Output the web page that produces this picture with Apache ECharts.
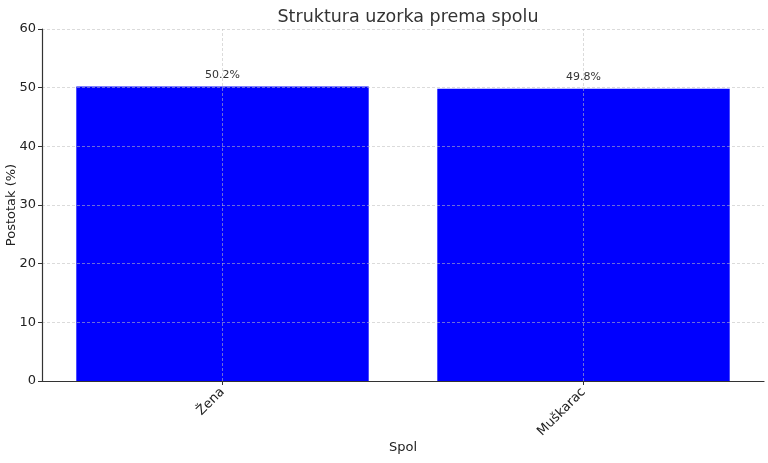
<!DOCTYPE html>
<html><head><meta charset="utf-8">
<script src="https://cdn.jsdelivr.net/npm/echarts@6/dist/echarts.min.js"></script>
<style>html,body{margin:0;padding:0;background:#fff}#c{width:768px;height:463px}</style>
</head><body><div id="c"></div>
<script>
const categories = ['Žena', 'Muškarac'];
const values = [50.2, 49.8];
const yTicks = [0, 10, 20, 30, 40, 50, 60];
const titleText = 'Struktura uzorka prema spolu';
const xName = 'Spol';
const yName = 'Postotak (%)';

const font = 'DejaVu Sans';
const grid = {left: 42, right: 4, top: 29, bottom: 82, containLabel: false, outerBoundsMode: 'none'};
const chart = echarts.init(document.getElementById('c'), null, {renderer: 'canvas'});
chart.setOption({
  animation: false,
  textStyle: {fontFamily: font},
  title: {text: titleText, left: 403, top: 3, textAlign: 'center',
    textStyle: {fontFamily: font, fontSize: 17.5, fontWeight: 'normal', color: '#333'}},
  grid: grid,
  xAxis: {
    type: 'category', data: categories, z: 3,
    name: xName, nameLocation: 'middle', nameGap: 60, nameMoveOverlap: false,
    nameTextStyle: {fontFamily: font, fontSize: 13, color: '#222'},
    axisLine: {lineStyle: {color: '#333', width: 1.2}},
    axisTick: {show: true, alignWithLabel: true, length: 4, lineStyle: {color: '#333'}},
    axisLabel: {rotate: 45, fontFamily: font, fontSize: 13, color: '#222', margin: 9},
    splitLine: {show: false}
  },
  yAxis: {
    type: 'value', min: yTicks[0], max: yTicks[yTicks.length - 1], interval: 10, z: 3,
    name: yName, nameLocation: 'middle', nameGap: 24, nameMoveOverlap: false,
    nameTextStyle: {fontFamily: font, fontSize: 13, color: '#222'},
    axisLine: {show: true, lineStyle: {color: '#333', width: 1.2}},
    axisTick: {show: true, length: 4, lineStyle: {color: '#333'}},
    axisLabel: {fontFamily: font, fontSize: 13, color: '#222', margin: 6},
    splitLine: {show: true, lineStyle: {color: 'rgba(190,190,190,0.7)', type: [3, 2], width: 0.8}}
  },
  series: [{
    type: 'bar', data: values, barWidth: '81%',
    itemStyle: {color: '#0000ff'},
    label: {show: true, position: 'top', distance: 6, formatter: p => p.value.toFixed(1) + '%',
      fontFamily: font, fontSize: 11, color: '#333'},
    markLine: {
      silent: true, symbol: 'none', z: 5, label: {show: false},
      lineStyle: {color: 'rgba(190,190,190,0.7)', type: [3, 2], width: 0.8},
      data: categories.map(c => ({xAxis: c}))
    }
  }]
});
</script></body></html>
